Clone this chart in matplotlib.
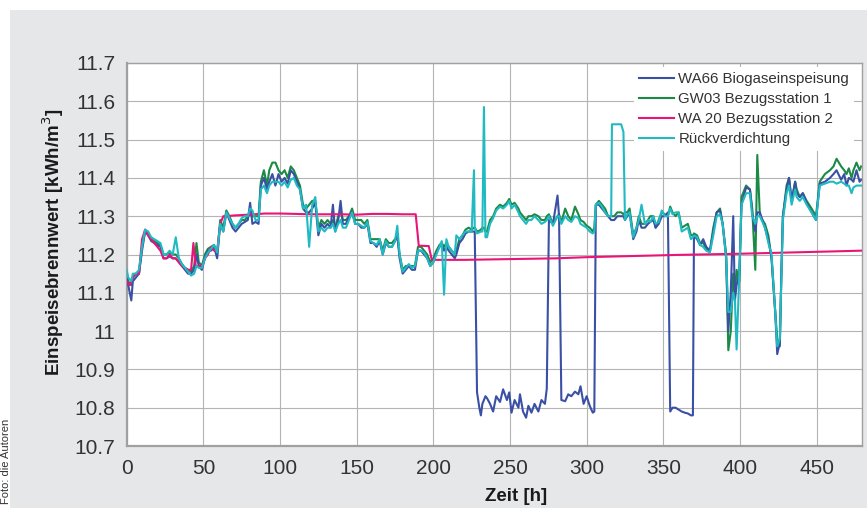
import matplotlib
matplotlib.use("Agg")
import matplotlib.pyplot as plt
from matplotlib.patches import Rectangle

plt.rcParams['font.family'] = ['Liberation Sans', 'DejaVu Sans']

# gemeinsame Zeitachse fuer WA66, GW03 und Rueckverdichtung [h]
hours = [
    0, 1, 3, 4, 6, 8, 10, 12, 14, 16,
    18, 20, 22, 24, 26, 28, 30, 32, 34, 36,
    38, 40, 42, 44, 45.5, 47, 49, 51, 53, 55,
    57, 59, 61, 63, 65, 67, 69, 71, 73, 75,
    77, 79, 80.5, 82, 84, 86, 87.5, 89.5, 91.5, 93,
    95, 97, 99, 101, 103, 105, 107, 109, 111, 113,
    115, 117, 119, 121, 123, 125, 127, 129, 131, 133,
    134.5, 136, 138, 139.5, 141, 143, 145, 147, 149, 151,
    153, 155, 157, 159, 161, 163, 165, 167, 169, 171,
    173, 175, 176.5, 178, 180, 182, 184, 186, 188, 190,
    192, 194, 196, 198, 200, 202, 204, 205.5, 207, 208.5,
    210, 212, 214, 215, 217, 219, 221, 223, 225, 226.5,
    227, 228.5, 230, 231, 232, 233, 234, 235, 237, 239,
    241, 243.5, 245.5, 248, 249.5, 251, 253, 255.5, 256.5, 258.5,
    260.5, 262, 264, 266, 268.5, 270.5, 272.8, 274, 275.4, 278,
    281, 282, 283.5, 286, 288, 290, 292.4, 294.6, 296, 298,
    300, 302, 304, 305, 306, 308, 310, 312, 314, 316,
    316.5, 318, 320, 322.5, 324, 325, 326.5, 328, 330.4, 332.5,
    334, 335.8, 338, 340, 341.5, 343.5, 345, 347, 349, 351,
    353, 354.5, 356, 358, 360, 362, 364, 366, 368, 369.3,
    370, 372, 374, 376, 378, 380.4, 382.6, 384.8, 387, 388.7,
    391, 392.4, 394, 395.6, 396.7, 397.8, 399.6, 401, 404, 406.5,
    408, 410, 411.3, 413, 416.3, 418.5, 420.6, 423, 424.3, 426,
    427, 428, 430.4, 432, 433.7, 436, 437, 439, 441, 443.5,
    446.7, 449.6, 452, 455.4, 458.7, 461, 463, 466, 468, 469.5,
    471, 472.8, 474, 476, 478, 479,
]

gw03 = [
    11.15, 11.13, 11.12, 11.14, 11.15, 11.15, 11.22, 11.26, 11.255, 11.24,
    11.235, 11.23, 11.225, 11.2, 11.2, 11.205, 11.2, 11.2, 11.19, 11.175,
    11.165, 11.16, 11.155, 11.17, 11.23, 11.18, 11.17, 11.2, 11.215, 11.22,
    11.225, 11.2, 11.29, 11.27, 11.315, 11.3, 11.28, 11.27, 11.28, 11.29,
    11.29, 11.3, 11.305, 11.3, 11.3, 11.3, 11.39, 11.42, 11.38, 11.42,
    11.44, 11.44, 11.42, 11.41, 11.42, 11.4, 11.43, 11.42, 11.4, 11.38,
    11.33, 11.32, 11.33, 11.34, 11.34, 11.27, 11.29, 11.28, 11.29, 11.28,
    11.29, 11.27, 11.3, 11.31, 11.29, 11.29, 11.3, 11.32, 11.29, 11.29,
    11.29, 11.28, 11.29, 11.24, 11.24, 11.24, 11.24, 11.21, 11.24, 11.23,
    11.23, 11.24, 11.25, 11.2, 11.16, 11.17, 11.17, 11.17, 11.17, 11.22,
    11.22, 11.21, 11.2, 11.18, 11.19, 11.21, 11.225, 11.23, 11.22, 11.23,
    11.22, 11.21, 11.2, 11.21, 11.24, 11.25, 11.265, 11.27, 11.265, 11.27,
    11.27, 11.26, 11.262, 11.265, 11.27, 11.27, 11.26, 11.26, 11.29, 11.3,
    11.32, 11.33, 11.325, 11.335, 11.345, 11.33, 11.335, 11.32, 11.31, 11.3,
    11.29, 11.3, 11.3, 11.305, 11.3, 11.29, 11.29, 11.3, 11.305, 11.28,
    11.3, 11.305, 11.285, 11.32, 11.3, 11.29, 11.325, 11.305, 11.29, 11.285,
    11.275, 11.27, 11.26, 11.27, 11.33, 11.34, 11.33, 11.32, 11.3, 11.3,
    11.3, 11.3, 11.31, 11.31, 11.305, 11.31, 11.31, 11.32, 11.25, 11.27,
    11.3, 11.28, 11.28, 11.29, 11.3, 11.3, 11.27, 11.29, 11.31, 11.305,
    11.3, 11.325, 11.31, 11.3, 11.31, 11.27, 11.275, 11.28, 11.25, 11.25,
    11.255, 11.25, 11.23, 11.23, 11.215, 11.21, 11.27, 11.31, 11.32, 11.28,
    11.2, 10.95, 11.0, 11.15, 11.1, 11.16, 11.13, 11.35, 11.38, 11.37,
    11.32, 11.16, 11.46, 11.3, 11.28, 11.25, 11.19, 11.05, 10.98, 10.96,
    11.15, 11.3, 11.38, 11.4, 11.34, 11.39, 11.37, 11.35, 11.36, 11.34,
    11.32, 11.3, 11.39, 11.41, 11.42, 11.43, 11.45, 11.43, 11.42, 11.41,
    11.425, 11.4, 11.42, 11.44, 11.42, 11.43,
]

wa66 = [
    11.14, 11.12, 11.08, 11.13, 11.14, 11.15, 11.21, 11.26, 11.25, 11.235,
    11.23, 11.225, 11.22, 11.19, 11.19, 11.195, 11.19, 11.19, 11.18, 11.17,
    11.16, 11.15, 11.15, 11.16, 11.2, 11.17, 11.16, 11.19, 11.21, 11.21,
    11.22, 11.19, 11.28, 11.26, 11.31, 11.29, 11.27, 11.26, 11.27, 11.28,
    11.285, 11.29, 11.335, 11.28, 11.285, 11.28, 11.38, 11.4, 11.37, 11.39,
    11.41, 11.38, 11.41, 11.39, 11.4, 11.385, 11.42, 11.41, 11.39, 11.37,
    11.32, 11.31, 11.31, 11.32, 11.335, 11.25, 11.28, 11.27, 11.28, 11.27,
    11.33, 11.26, 11.29, 11.34, 11.28, 11.28, 11.3, 11.31, 11.28, 11.28,
    11.27, 11.27, 11.28, 11.23, 11.23, 11.22, 11.235, 11.2, 11.23, 11.22,
    11.22, 11.235, 11.25, 11.19, 11.15, 11.16, 11.17, 11.16, 11.16, 11.21,
    11.21, 11.2, 11.19, 11.17, 11.18, 11.205, 11.22, 11.225, 11.21, 11.22,
    11.21, 11.2, 11.19, 11.2, 11.23, 11.24, 11.255, 11.26, 11.26, 11.26,
    11.26, 10.84, 10.8, 10.78, 10.81, 10.82, 10.83, 10.825, 10.81, 10.79,
    10.83, 10.815, 10.848, 10.82, 10.84, 10.787, 10.82, 10.8, 10.835, 10.79,
    10.774, 10.805, 10.787, 10.81, 10.79, 10.82, 10.81, 10.85, 11.29, 11.28,
    11.354, 11.3, 10.82, 10.817, 10.835, 10.83, 10.842, 10.835, 10.856, 10.81,
    10.83, 10.805, 10.787, 10.79, 11.33, 11.33, 11.32, 11.31, 11.3, 11.29,
    11.29, 11.29, 11.3, 11.3, 11.3, 11.29, 11.3, 11.31, 11.24, 11.26,
    11.29, 11.27, 11.27, 11.28, 11.285, 11.29, 11.27, 11.28, 11.3, 11.3,
    11.31, 10.79, 10.8, 10.8, 10.795, 10.79, 10.787, 10.785, 10.78, 10.78,
    11.25, 11.24, 11.225, 11.24, 11.22, 11.21, 11.26, 11.31, 11.315, 11.28,
    11.19, 11.0, 11.1, 11.3, 11.08, 11.12, 11.15, 11.33, 11.375, 11.37,
    11.31, 11.26, 11.31, 11.31, 11.27, 11.24, 11.19, 11.05, 10.94, 10.97,
    11.15, 11.3, 11.37, 11.4, 11.34, 11.39, 11.36, 11.35, 11.36, 11.335,
    11.31, 11.29, 11.385, 11.39, 11.4, 11.41, 11.42, 11.395, 11.41, 11.38,
    11.4, 11.395, 11.39, 11.42, 11.39, 11.395,
]

rueck = [
    11.16, 11.14, 11.13, 11.15, 11.15, 11.16, 11.22, 11.265, 11.26, 11.245,
    11.24, 11.235, 11.23, 11.2, 11.2, 11.21, 11.2, 11.245, 11.19, 11.175,
    11.165, 11.155, 11.145, 11.15, 11.17, 11.165, 11.165, 11.19, 11.205, 11.215,
    11.225, 11.205, 11.28, 11.26, 11.31, 11.295, 11.28, 11.27, 11.28, 11.295,
    11.3, 11.3, 11.32, 11.315, 11.29, 11.29, 11.37, 11.38, 11.36, 11.38,
    11.39, 11.39, 11.39, 11.38, 11.39, 11.375, 11.395, 11.4, 11.38, 11.37,
    11.32, 11.33, 11.22, 11.33, 11.35, 11.26, 11.27, 11.26, 11.27, 11.27,
    11.28, 11.26, 11.28, 11.29, 11.27, 11.27, 11.29, 11.31, 11.28, 11.28,
    11.275, 11.27, 11.285, 11.235, 11.23, 11.225, 11.24, 11.2, 11.235, 11.22,
    11.22, 11.235, 11.275, 11.2, 11.155, 11.165, 11.175, 11.165, 11.17, 11.21,
    11.21, 11.205, 11.19, 11.17, 11.18, 11.2, 11.22, 11.235, 11.095, 11.24,
    11.22, 11.21, 11.2, 11.25, 11.24, 11.25, 11.26, 11.26, 11.26, 11.42,
    11.27, 11.255, 11.258, 11.26, 11.26, 11.585, 11.245, 11.245, 11.28, 11.295,
    11.315, 11.325, 11.32, 11.33, 11.34, 11.32, 11.33, 11.31, 11.3, 11.29,
    11.28, 11.29, 11.29, 11.3, 11.29, 11.28, 11.285, 11.29, 11.3, 11.275,
    11.3, 11.3, 11.28, 11.3, 11.29, 11.285, 11.3, 11.295, 11.28, 11.275,
    11.27, 11.26, 11.255, 11.26, 11.33, 11.335, 11.325, 11.31, 11.3, 11.3,
    11.54, 11.54, 11.54, 11.54, 11.52, 11.29, 11.305, 11.31, 11.245, 11.27,
    11.29, 11.33, 11.28, 11.29, 11.285, 11.3, 11.28, 11.285, 11.315, 11.3,
    11.3, 11.32, 11.305, 11.31, 11.31, 11.26, 11.265, 11.27, 11.24, 11.245,
    11.25, 11.245, 11.225, 11.22, 11.21, 11.205, 11.25, 11.3, 11.305, 11.28,
    11.19, 11.05, 11.05, 11.1, 11.08, 10.952, 11.15, 11.33, 11.36, 11.36,
    11.3, 11.28, 11.3, 11.3, 11.27, 11.23, 11.2, 11.05, 10.96, 10.98,
    11.13, 11.29, 11.36, 11.38, 11.33, 11.37, 11.35, 11.34, 11.35, 11.33,
    11.31, 11.29, 11.38, 11.385, 11.39, 11.39, 11.385, 11.39, 11.385, 11.38,
    11.38, 11.36, 11.375, 11.38, 11.38, 11.38,
]

# WA 20 Bezugsstation 2 (eigene Stuetzstellen)
wa20_hours = [
    0, 2, 4, 6, 8, 10, 12, 14, 16, 18,
    20, 22, 24, 26, 28, 30, 32, 34, 36, 38,
    40, 42, 43.5, 45, 47, 49, 51, 53, 55, 57,
    59, 61, 63, 65, 70, 80, 90, 100, 110, 120,
    130, 140, 150, 160, 170, 180, 188.5, 190.5, 197, 199,
    220, 250, 280, 300, 330, 360, 400, 430, 460, 479,
]
wa20 = [
    11.13, 11.12, 11.14, 11.15, 11.15, 11.24, 11.265, 11.25, 11.24, 11.23,
    11.22, 11.21, 11.19, 11.19, 11.2, 11.19, 11.19, 11.18, 11.17, 11.165,
    11.16, 11.16, 11.23, 11.17, 11.17, 11.17, 11.19, 11.2, 11.22, 11.21,
    11.21, 11.28, 11.3, 11.3, 11.302, 11.304, 11.307, 11.307, 11.306, 11.305,
    11.305, 11.305, 11.304, 11.306, 11.306, 11.305, 11.305, 11.223, 11.222, 11.186,
    11.186, 11.188, 11.19, 11.193, 11.196, 11.199, 11.202, 11.205, 11.208, 11.21,
]

labels = ['WA66 Biogaseinspeisung', 'GW03 Bezugsstation 1',
          'WA 20 Bezugsstation 2', 'Rückverdichtung']
colors = ['#3a50a4', '#1a8a44', '#ea1479', '#1fbac2']

x_ticks = [0, 50, 100, 150, 200, 250, 300, 350, 400, 450]
y_ticks = [10.7, 10.8, 10.9, 11.0, 11.1, 11.2, 11.3, 11.4, 11.5, 11.6, 11.7]
y_ticklabels = ['10.7', '10.8', '10.9', '11', '11.1', '11.2', '11.3',
                '11.4', '11.5', '11.6', '11.7']

fig = plt.figure(figsize=(8.67, 5.08), dpi=100, facecolor='white')
fig.add_artist(Rectangle((10 / 867, 0), 1, 1 - 10 / 508, transform=fig.transFigure,
                         facecolor='#e6e7e9', edgecolor='none', zorder=0))

ax = fig.add_axes([126.7 / 867, 62 / 508, 735 / 867, 383 / 508])
ax.set_facecolor('white')

ax.plot(hours, wa66, color=colors[0], lw=1.5, label=labels[0], zorder=3)
ax.plot(hours, gw03, color=colors[1], lw=1.5, label=labels[1], zorder=2)
ax.plot(wa20_hours, wa20, color=colors[2], lw=1.5, label=labels[2], zorder=4)
ax.plot(hours, rueck, color=colors[3], lw=1.5, label=labels[3], zorder=5)

ax.set_xlim(0, 479.4)
ax.set_ylim(10.7, 11.7)
ax.set_xticks(x_ticks)
ax.set_yticks(y_ticks)
ax.set_yticklabels(y_ticklabels)
ax.tick_params(length=0, labelsize=15, labelcolor='#333333')
ax.tick_params(axis='y', pad=8)
ax.tick_params(axis='x', pad=9)
ax.grid(True, color='#b4b4b4', lw=0.8)
ax.set_axisbelow(True)
for s in ax.spines.values():
    s.set_color('#a0a0a0')
    s.set_linewidth(1.0)
ax.spines['left'].set_linewidth(1.6)
ax.spines['bottom'].set_linewidth(1.6)

ax.set_ylabel('Einspeisebrennwert [kWh/m$^3$]', fontsize=13.5, fontweight='bold',
              color='#1a1a1a')
ax.yaxis.set_label_coords(-0.1, 0.533)
ax.yaxis.label.set_va('center')
ax.set_xlabel('Zeit [h]', fontsize=13.5, fontweight='bold', color='#1a1a1a')
ax.xaxis.set_label_coords(0.53, -0.132)
ax.xaxis.label.set_va('center')

leg = ax.legend(loc='upper right', bbox_to_anchor=(0.99, 0.99), borderaxespad=0,
                fontsize=10.8, frameon=True, fancybox=False, framealpha=1,
                edgecolor='none', facecolor='white', handlelength=2.3,
                handletextpad=0.3, labelspacing=0.4, borderpad=0.35)
for t in leg.get_texts():
    t.set_color('#333333')
leg.set_zorder(10)

fig.text(6 / 867, 1 - 419 / 508, 'Foto: die Autoren', rotation=90, ha='center',
         va='top', fontsize=8, color='#333333')

fig.savefig('out.png', dpi=100)
